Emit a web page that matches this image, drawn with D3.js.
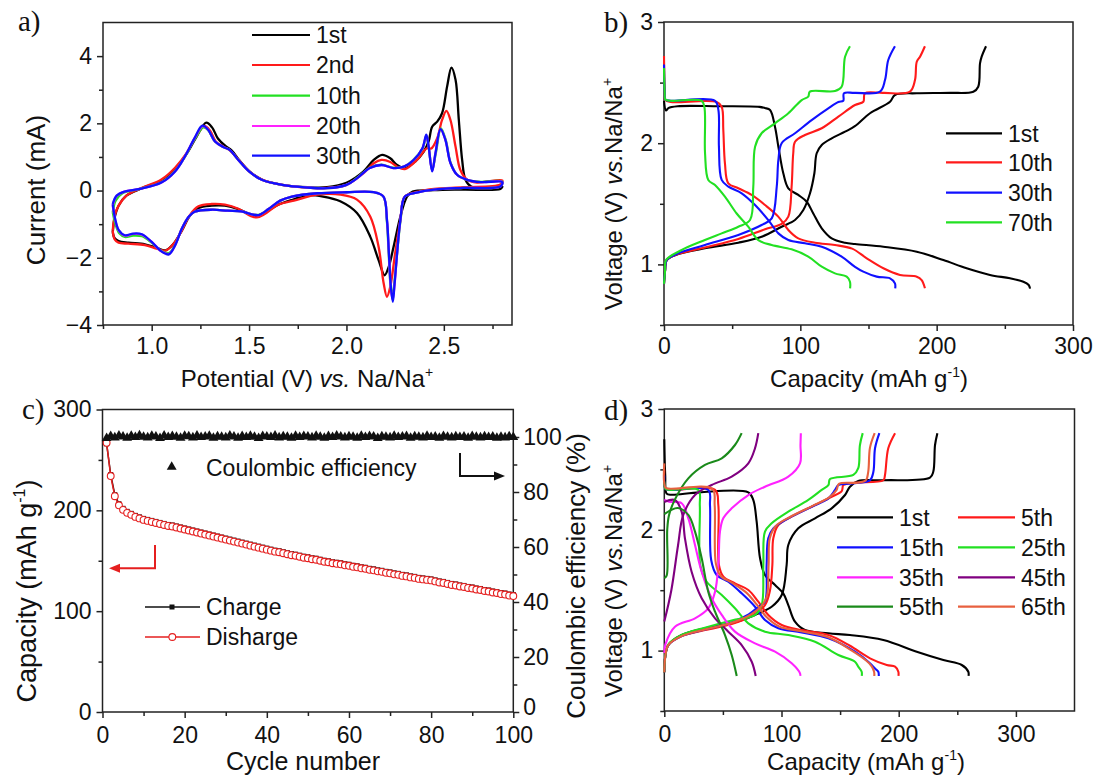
<!DOCTYPE html>
<html>
<head>
<meta charset="utf-8">
<script src="https://cdn.jsdelivr.net/npm/d3@7"></script>
<style>
  body { margin: 0; background: #fff; }
  svg text { font-family: "Liberation Sans", Arial, sans-serif; fill: #111; }
</style>
</head>
<body>
<svg id="fig" width="1099" height="778"></svg>
<script>
// ---------- panel a : cyclic voltammetry, [potential V, current mA] loops ----------
var cv1st = [[0.80,-1.25],[0.81,-0.80],[0.83,-0.45],[0.87,-0.15],[0.95,0.07],[1.05,0.30],[1.12,0.65],[1.18,1.10],[1.23,1.60],[1.28,2.02],[1.31,1.88],[1.34,1.55],[1.38,1.32],[1.41,1.20],[1.45,0.90],[1.50,0.58],[1.565,0.33],[1.67,0.17],[1.80,0.10],[1.90,0.10],[2.0,0.23],[2.088,0.57],[2.14,0.91],[2.183,1.06],[2.225,0.96],[2.26,0.76],[2.30,0.67],[2.354,0.87],[2.397,1.16],[2.422,1.46],[2.44,1.90],[2.466,2.05],[2.491,2.30],[2.517,3.10],[2.539,3.66],[2.56,3.30],[2.577,2.10],[2.594,0.91],[2.611,0.32],[2.64,0.12],[2.72,0.07],[2.80,0.12],
             [2.79,0.05],[2.60,0.03],[2.45,0.01],[2.34,-0.03],[2.311,-0.18],[2.277,-0.77],[2.242,-1.67],[2.217,-2.27],[2.196,-2.52],[2.165,-2.07],[2.122,-1.37],[2.054,-0.67],[1.968,-0.32],[1.88,-0.18],[1.80,-0.14],[1.73,-0.26],[1.65,-0.42],[1.58,-0.65],[1.54,-0.75],[1.51,-0.72],[1.445,-0.55],[1.376,-0.45],[1.308,-0.45],[1.24,-0.52],[1.196,-0.75],[1.154,-1.20],[1.11,-1.60],[1.07,-1.78],[1.025,-1.70],[0.965,-1.60],[0.88,-1.55],[0.83,-1.50],[0.81,-1.42],[0.80,-1.25]];
var cv2nd = [[0.80,-1.20],[0.81,-0.75],[0.83,-0.45],[0.87,-0.15],[0.95,0.08],[1.05,0.33],[1.12,0.68],[1.18,1.12],[1.225,1.58],[1.27,1.92],[1.30,1.78],[1.33,1.45],[1.37,1.30],[1.40,1.20],[1.445,0.92],[1.50,0.58],[1.565,0.33],[1.67,0.17],[1.80,0.09],[1.90,0.08],[2.0,0.17],[2.088,0.52],[2.14,0.81],[2.18,0.91],[2.225,0.85],[2.26,0.71],[2.30,0.64],[2.362,0.91],[2.413,1.26],[2.435,1.25],[2.466,1.56],[2.491,2.10],[2.513,2.37],[2.534,2.10],[2.56,1.31],[2.585,0.61],[2.62,0.32],[2.67,0.24],[2.80,0.30],
             [2.79,0.18],[2.60,0.10],[2.45,0.05],[2.37,-0.03],[2.30,-0.18],[2.277,-0.87],[2.25,-1.87],[2.225,-2.86],[2.208,-3.16],[2.191,-2.76],[2.165,-1.67],[2.122,-0.77],[2.054,-0.27],[1.97,-0.12],[1.85,-0.12],[1.73,-0.30],[1.65,-0.42],[1.58,-0.70],[1.54,-0.80],[1.51,-0.76],[1.445,-0.54],[1.376,-0.42],[1.308,-0.40],[1.24,-0.47],[1.196,-0.73],[1.154,-1.20],[1.11,-1.60],[1.07,-1.79],[1.025,-1.73],[0.965,-1.62],[0.88,-1.58],[0.83,-1.55],[0.81,-1.45],[0.80,-1.20]];
var cv10th = [[0.80,-0.65],[0.815,-0.30],[0.85,-0.08],[0.94,0.05],[1.05,0.25],[1.12,0.58],[1.17,1.00],[1.22,1.52],[1.265,1.88],[1.29,1.80],[1.325,1.46],[1.37,1.29],[1.40,1.21],[1.445,0.91],[1.50,0.57],[1.565,0.32],[1.67,0.17],[1.80,0.09],[1.90,0.07],[2.0,0.17],[2.055,0.38],[2.12,0.68],[2.18,0.77],[2.24,0.68],[2.295,0.71],[2.345,0.92],[2.39,1.24],[2.41,1.60],[2.422,1.30],[2.44,0.62],[2.46,1.15],[2.485,1.85],[2.51,1.50],[2.534,0.84],[2.568,0.47],[2.62,0.32],[2.69,0.26],[2.80,0.27],
              [2.79,0.12],[2.60,0.08],[2.45,0.03],[2.36,-0.06],[2.30,-0.18],[2.278,-0.87],[2.26,-1.87],[2.245,-2.80],[2.236,-3.15],[2.226,-2.80],[2.217,-1.87],[2.207,-0.87],[2.19,-0.18],[2.14,-0.05],[2.0,-0.05],[1.85,-0.08],[1.72,-0.18],[1.66,-0.30],[1.60,-0.55],[1.55,-0.72],[1.51,-0.70],[1.46,-0.62],[1.39,-0.60],[1.31,-0.57],[1.22,-0.63],[1.19,-0.78],[1.155,-1.13],[1.12,-1.62],[1.088,-1.86],[1.05,-1.80],[1.0,-1.55],[0.95,-1.36],[0.905,-1.34],[0.862,-1.38],[0.835,-1.28],[0.815,-1.02],[0.80,-0.65]];
var cv20th = [[0.80,-0.45],[0.82,-0.16],[0.86,-0.03],[0.94,0.05],[1.05,0.24],[1.12,0.57],[1.17,1.01],[1.22,1.55],[1.262,1.92],[1.29,1.81],[1.325,1.46],[1.37,1.29],[1.40,1.21],[1.445,0.91],[1.50,0.57],[1.565,0.32],[1.67,0.17],[1.80,0.09],[1.90,0.07],[2.0,0.17],[2.055,0.37],[2.12,0.67],[2.18,0.76],[2.24,0.67],[2.295,0.71],[2.345,0.91],[2.39,1.25],[2.41,1.64],[2.422,1.31],[2.44,0.58],[2.457,1.11],[2.483,1.83],[2.508,1.51],[2.534,0.82],[2.568,0.47],[2.62,0.32],[2.69,0.25],[2.80,0.26],
              [2.79,0.12],[2.60,0.08],[2.45,0.03],[2.36,-0.06],[2.30,-0.18],[2.277,-0.87],[2.26,-1.87],[2.246,-2.86],[2.237,-3.25],[2.227,-2.86],[2.218,-1.87],[2.208,-0.87],[2.19,-0.18],[2.14,-0.05],[2.0,-0.05],[1.85,-0.08],[1.72,-0.18],[1.66,-0.30],[1.60,-0.55],[1.55,-0.73],[1.51,-0.70],[1.46,-0.62],[1.39,-0.60],[1.31,-0.57],[1.22,-0.63],[1.19,-0.78],[1.155,-1.13],[1.12,-1.63],[1.088,-1.89],[1.05,-1.81],[1.0,-1.53],[0.95,-1.31],[0.905,-1.29],[0.862,-1.34],[0.831,-1.19],[0.812,-0.85],[0.80,-0.45]];
var cv30th = [[0.80,-0.40],[0.82,-0.15],[0.86,-0.03],[0.94,0.05],[1.05,0.24],[1.12,0.57],[1.17,1.01],[1.22,1.56],[1.26,1.93],[1.29,1.81],[1.325,1.46],[1.37,1.29],[1.40,1.21],[1.445,0.91],[1.50,0.57],[1.565,0.32],[1.67,0.17],[1.80,0.09],[1.90,0.07],[2.0,0.17],[2.055,0.37],[2.12,0.67],[2.18,0.76],[2.24,0.67],[2.295,0.71],[2.345,0.91],[2.39,1.26],[2.41,1.66],[2.422,1.31],[2.44,0.57],[2.457,1.11],[2.483,1.83],[2.508,1.51],[2.534,0.82],[2.568,0.47],[2.62,0.32],[2.69,0.25],[2.80,0.25],
              [2.79,0.12],[2.60,0.08],[2.45,0.03],[2.36,-0.06],[2.30,-0.18],[2.277,-0.87],[2.26,-1.87],[2.246,-2.86],[2.238,-3.31],[2.228,-2.86],[2.218,-1.87],[2.208,-0.87],[2.19,-0.18],[2.14,-0.05],[2.0,-0.05],[1.85,-0.08],[1.72,-0.18],[1.66,-0.30],[1.60,-0.55],[1.55,-0.73],[1.51,-0.70],[1.46,-0.62],[1.39,-0.60],[1.31,-0.57],[1.22,-0.63],[1.19,-0.78],[1.155,-1.13],[1.12,-1.63],[1.088,-1.90],[1.05,-1.81],[1.0,-1.53],[0.95,-1.30],[0.905,-1.28],[0.862,-1.33],[0.831,-1.18],[0.812,-0.83],[0.80,-0.40]];
var cvNames = ["1st", "2nd", "10th", "20th", "30th"];
var cvColors = ["#000000", "#ff1a1a", "#22e022", "#ff22ff", "#1010ff"];

// ---------- panel b : charge / discharge profiles, [capacity, voltage] ----------
var b1Dis = [[0,2.35],[1.5,2.27],[3.2,2.29],[10,2.305],[40,2.305],[70,2.30],[74,2.29],[77.8,2.274],[81.4,2.136],[83.9,1.971],[87.5,1.752],[91.2,1.628],[98.5,1.573],[104.7,1.517],[109.5,1.42],[115.7,1.298],[123,1.215],[132.8,1.179],[140.1,1.168],[160.9,1.146],[185.4,1.105],[204.9,1.036],[222,0.968],[239.1,0.913],[253.8,0.885],[263.6,0.857],[267.5,0.83],[268.5,0.80]];
var b1Cha = [[0,0.84],[0.8,0.95],[2,1.036],[8.6,1.078],[30,1.133],[54.5,1.179],[71.6,1.228],[86.3,1.311],[96.1,1.366],[102.2,1.449],[107.1,1.587],[110.3,1.752],[112,1.917],[115.7,1.985],[123,2.04],[132.8,2.095],[140,2.14],[151.1,2.247],[165.8,2.342],[169.4,2.398],[185.4,2.412],[209.8,2.415],[226.9,2.425],[230.5,2.466],[231.8,2.659],[233,2.714],[236.2,2.80]];
var b10Dis = [[0,2.72],[0.5,2.45],[1,2.356],[5,2.34],[38.6,2.34],[42.3,2.301],[43.5,2.109],[44.7,1.834],[47.2,1.669],[54.5,1.628],[64.3,1.573],[74.1,1.49],[83.8,1.394],[91.2,1.284],[98.5,1.215],[110.8,1.179],[125.4,1.16],[138,1.13],[148.7,1.05],[160.9,0.968],[173.1,0.913],[185.4,0.899],[189,0.871],[191.4,0.803]];
var b10Cha = [[0,0.84],[0.8,0.95],[2,1.036],[8.6,1.08],[30,1.14],[54.5,1.21],[74.1,1.29],[86.3,1.334],[91.2,1.394],[93.6,1.642],[94.8,1.917],[96.1,2.012],[103.4,2.068],[115.7,2.123],[127.9,2.219],[140.1,2.315],[146.2,2.342],[147.4,2.412],[160.9,2.415],[180.4,2.425],[184.1,2.521],[185.4,2.672],[187.8,2.714],[191.4,2.80]];
var b30Dis = [[0,2.65],[0.5,2.42],[1,2.36],[5,2.35],[37.4,2.35],[39.9,2.274],[40.3,1.97],[42.3,1.697],[47.2,1.642],[57,1.587],[66.8,1.49],[76.5,1.366],[83.9,1.256],[91.2,1.201],[103.4,1.174],[115.7,1.146],[130.3,1.064],[140.1,0.98],[146.2,0.94],[156,0.899],[165.8,0.885],[169.4,0.844],[169.6,0.803]];
var b30Cha = [[0,0.84],[0.8,0.95],[2,1.036],[10,1.09],[30,1.16],[54.5,1.243],[71.6,1.325],[79,1.38],[82.7,1.642],[83.9,1.862],[86.3,2.0],[96.1,2.082],[108.3,2.191],[120.5,2.288],[127.9,2.34],[131.5,2.35],[132,2.412],[140,2.415],[158.4,2.425],[162.1,2.521],[164.5,2.686],[169.4,2.80]];
var b70Dis = [[0,2.62],[0.5,2.42],[1,2.36],[5,2.35],[27.6,2.35],[29.6,2.30],[30.1,1.917],[32.5,1.697],[37.4,1.655],[44.7,1.559],[53.3,1.42],[61.8,1.311],[69.2,1.201],[79,1.16],[93.6,1.124],[105.8,1.064],[115.7,0.981],[125.4,0.926],[134,0.899],[136.4,0.857],[136.5,0.803]];
var b70Cha = [[0,0.84],[0.8,0.95],[1.5,1.036],[13,1.119],[30,1.201],[42.3,1.256],[54.5,1.311],[63.1,1.366],[65.5,1.642],[66.8,1.971],[71.6,2.082],[81.4,2.164],[91.2,2.247],[101,2.356],[105.8,2.384],[107,2.425],[125.4,2.43],[130.3,2.466],[132.8,2.714],[136.4,2.80]];
var bNames = ["1st", "10th", "30th", "70th"];
var bColors = ["#000000", "#ff1a1a", "#1010ff", "#22e022"];

// ---------- panel c : cycling, capacity (mAh/g) and coulombic efficiency (%) ----------
var discharge = [267,234,214,205,200.5,197.5,195.5,193.5,192,190.5, 189.5,188.5,187.5,186.5,185.5,184.5,184,183,182,181,
                 180,179,178,177,176,175,174,173,172,171, 170,169,168,167,166,165,164,163,162,161,
                 160,159,158.5,157.5,156.5,155.5,155,154,153,152.5, 151.5,151,150,149,148.5,147.5,147,146.5,145.5,145,
                 144,143.5,142.5,142,141,140.5,139.5,139,138,137.5, 136.5,136,135,134.5,133.5,133,132,131.5,131,130.5,
                 129.5,128.5,128,127,126,125.5,124.5,124,123,122.5, 121.5,121,120,119.5,118.5,118,117,116.5,115.5,115];
var charge = [266,235.5,215.5,206.5,202,199,197,195,193.5,192, 191,190,189,188,187,186,185.5,184.5,183.5,182.5,
              181.5,180.5,179.5,178.5,177.5,176.5,175.5,174.5,173.5,172.5, 171.5,170.5,169.5,168.5,167.5,166.5,165.5,164.5,163.5,162.5,
              161.5,160.5,160,159,158,157,156.5,155.5,154.5,154, 153,152.5,151.5,150.5,150,149,148.5,148,147,146.5,
              145.5,145,144,143.5,142.5,142,141,140.5,139.5,139, 138,137.5,136.5,136,135,134.5,133.5,133,132.5,132,
              131,130,129.5,128.5,127.5,127,126,125.5,124.5,124, 123,122.5,121.5,121,120,119.5,118.5,118,117,116.5];
var efficiency = [99.6,100.3,99.8,100.5,100.1,99.7,100.4,99.9,100.6,100.0, 99.8,100.4,100.1,99.6,100.5,99.9,100.3,100.0,99.7,100.4,
                  100.2,99.8,100.5,99.9,100.1,100.4,99.7,100.2,100.0,99.8, 100.5,100.1,99.7,100.3,99.9,100.4,100.0,99.6,100.3,100.1,
                  99.9,100.5,99.8,100.2,100.0,99.7,100.4,99.9,100.3,100.1, 99.8,100.4,100.0,99.7,100.3,99.9,100.5,100.1,99.8,100.2,
                  100.0,99.7,100.4,99.9,100.3,100.1,99.6,100.2,100.0,99.8, 100.4,99.9,100.1,100.3,99.7,100.2,100.0,99.8,100.4,99.9,
                  100.1,99.7,100.3,100.0,99.8,100.2,99.9,100.1,99.7,100.3, 100.0,99.8,100.2,99.9,100.1,99.7,100.0,99.8,100.2,99.9];

// ---------- panel d : more cycles ----------
var d1Dis = [[0,2.75],[0.8,2.45],[2,2.30],[6,2.29],[30,2.31],[71.7,2.31],[75.9,2.247],[78.8,2.067],[81.7,1.764],[85.9,1.626],[94.5,1.543],[101.5,1.474],[105.8,1.377],[111.5,1.239],[120,1.17],[140,1.143],[158.4,1.129],[186.9,1.088],[215.4,0.991],[238.1,0.922],[253.8,0.881],[259.4,0.825],[259.6,0.79]];
var d1Cha = [[0,0.82],[0.8,0.95],[3.4,1.046],[14.8,1.129],[34.7,1.185],[57.5,1.226],[77.4,1.295],[91.6,1.363],[100.2,1.46],[104.4,1.709],[105.8,1.874],[114.3,2.012],[128.6,2.095],[142.8,2.178],[154.2,2.288],[158.4,2.357],[165.5,2.404],[186.9,2.41],[226.7,2.432],[229.5,2.48],[231,2.702],[233,2.80]];
var d5Dis = [[0,2.5],[1,2.34],[5,2.33],[43.3,2.33],[46.1,2.205],[46.6,1.709],[50.4,1.612],[60.3,1.557],[71.7,1.502],[80.2,1.405],[88.7,1.295],[100.2,1.212],[117.2,1.17],[140,1.129],[158.4,1.04],[175.5,0.936],[189.8,0.881],[196.9,0.867],[199.7,0.825],[199.8,0.79]];
var d5Cha = [[0,0.82],[0.8,0.95],[3.4,1.046],[14.8,1.12],[34.7,1.17],[57.5,1.22],[75,1.29],[85.9,1.377],[90.2,1.5],[92.2,1.709],[93,1.93],[97.3,2.04],[111.5,2.123],[128.6,2.205],[142.8,2.274],[151.4,2.32],[152.8,2.37],[162.7,2.39],[186.9,2.41],[188.3,2.454],[191.1,2.675],[196.9,2.80]];
var d15Dis = [[0,2.45],[1,2.34],[5,2.33],[37.5,2.33],[39,2.2],[40,1.75],[44.7,1.626],[54.6,1.57],[66,1.474],[77.4,1.363],[85.9,1.253],[97.3,1.185],[117.2,1.151],[140,1.102],[162.7,0.991],[175,0.90],[180,0.85],[182.6,0.825],[183,0.79]];
var d15Cha = [[0,0.82],[0.8,0.95],[3.4,1.046],[14.8,1.12],[34.7,1.175],[57.5,1.235],[72,1.30],[80,1.36],[85.9,1.405],[87.3,1.709],[88.7,1.93],[93,2.012],[105.8,2.095],[125.8,2.191],[140,2.26],[145.7,2.33],[148.5,2.37],[162.7,2.385],[175.5,2.41],[178.4,2.48],[179.8,2.675],[183.5,2.80]];
var d25Dis = [[0,2.4],[1,2.34],[5,2.33],[29,2.33],[30.3,2.2],[30.7,1.709],[36.2,1.57],[49,1.46],[60.3,1.35],[71.7,1.226],[85.9,1.157],[105.8,1.129],[128.6,1.074],[148.5,0.964],[162.7,0.908],[165.5,0.867],[168.4,0.825],[168.5,0.79]];
var d25Cha = [[0,0.82],[0.8,0.95],[3.4,1.05],[14.8,1.13],[34.7,1.19],[57.5,1.25],[77.4,1.295],[83.1,1.377],[84.5,1.709],[85.9,1.985],[91.6,2.054],[105.8,2.15],[122.9,2.247],[134.3,2.33],[140,2.37],[141.4,2.42],[161.3,2.454],[165.5,2.51],[166.9,2.70],[169.3,2.80]];
var d35Dis = [[0,2.25],[4,2.233],[14.8,2.22],[20.5,2.095],[26.2,1.874],[31.9,1.653],[40.4,1.433],[49,1.295],[60.3,1.157],[77.4,1.06],[94.5,0.991],[108.7,0.895],[115.8,0.812],[116,0.79]];
var d35Cha = [[0,0.98],[0.9,1.05],[9.1,1.198],[26.2,1.267],[37.5,1.35],[43.3,1.488],[46.1,1.709],[47.5,1.985],[50.3,2.095],[57.5,2.178],[71.7,2.288],[85.9,2.357],[105.8,2.44],[115.8,2.55],[116.2,2.70],[116.5,2.80]];
var d45Dis = [[0,2.23],[9,2.247],[14.8,2.15],[17.6,1.93],[23.3,1.653],[31.9,1.433],[43.3,1.267],[54.6,1.157],[66,1.046],[74.6,0.908],[78,0.79]];
var d45Cha = [[0,1.24],[6,1.5],[11.7,1.87],[16.2,2.123],[26.2,2.288],[40.4,2.371],[57.5,2.44],[71.7,2.55],[77.4,2.675],[80.2,2.80]];
var d55Dis = [[0,2.13],[11.7,2.18],[20.5,2.123],[26.2,1.985],[31.9,1.764],[37.5,1.488],[43.3,1.322],[51.8,1.129],[57.5,0.964],[61.8,0.79]];
var d55Cha = [[0,1.6],[2,1.62],[2.5,2.0],[4,2.12],[9,2.25],[20.5,2.426],[34.7,2.537],[49,2.592],[60.3,2.702],[66,2.80]];
var d65Dis = [[0,2.55],[1,2.35],[5,2.34],[41,2.34],[43,2.2],[44,1.72],[48,1.62],[58,1.56],[70,1.48],[79,1.38],[87,1.28],[98,1.2],[117,1.16],[140,1.11],[160,1.0],[172,0.92],[177,0.87],[179,0.825],[179.2,0.79]];
var d65Cha = [[0,0.82],[0.8,0.95],[3.4,1.046],[14.8,1.12],[34.7,1.175],[57.5,1.23],[74,1.30],[83,1.37],[87.5,1.45],[89,1.709],[90,1.93],[95,2.03],[108,2.11],[127,2.2],[141,2.27],[147,2.33],[149,2.38],[165,2.39],[172,2.41],[174,2.48],[175.5,2.68],[179.5,2.80]];
var dNames = ["1st", "5th", "15th", "25th", "35th", "45th", "55th", "65th"];
var dColors = ["#000000", "#ff1a1a", "#1010ff", "#22e022", "#ff22ff", "#800080", "#1a8a1a", "#e8603f"];

// ---------- drawing ----------
var svg = d3.select("#fig");
svg.append("rect").attr("width", 1099).attr("height", 778).attr("fill", "#fff");

var FONT = "Liberation Sans, Arial, sans-serif";
var TICK = 23;

function style(sel) {
  sel.attr("font-size", TICK).attr("font-family", FONT);
  sel.select(".domain").remove();
  sel.selectAll("line").attr("stroke", "#222").attr("stroke-width", 1.5);
  sel.selectAll("text").attr("fill", "#111");
}

function axes(f, x, y, o) {
  var g = svg.append("g");
  g.append("g").attr("transform", "translate(0," + f.y1 + ")")
    .call(d3.axisBottom(x).tickValues(o.xMinor).tickSize(4).tickFormat("")).call(style);
  g.append("g").attr("transform", "translate(0," + f.y1 + ")")
    .call(d3.axisBottom(x).tickValues(o.xMajor).tickSize(6).tickPadding(o.xPad || 7).tickFormat(o.xFmt || d3.format("d"))).call(style);
  g.append("g").attr("transform", "translate(" + f.x0 + ",0)")
    .call(d3.axisLeft(y).tickValues(o.yMinor).tickSize(4).tickFormat("")).call(style);
  g.append("g").attr("transform", "translate(" + f.x0 + ",0)")
    .call(d3.axisLeft(y).tickValues(o.yMajor).tickSize(6).tickPadding(5).tickFormat(d3.format("d"))).call(style);
  g.append("rect").attr("x", f.x0).attr("y", f.y0)
    .attr("width", f.x1 - f.x0).attr("height", f.y1 - f.y0)
    .attr("fill", "none").attr("stroke", "#222").attr("stroke-width", 1.5);
}

function panelLabel(t, px, py) {
  svg.append("text").attr("x", px).attr("y", py).text(t)
    .style("font-family", "Liberation Serif, Times New Roman, serif").attr("font-size", 29);
}

function legend(names, colors, x0, x1, tx, ys) {
  names.forEach(function (n, i) {
    svg.append("line").attr("x1", x0).attr("x2", x1).attr("y1", ys[i]).attr("y2", ys[i])
      .attr("stroke", colors[i]).attr("stroke-width", 2.2);
    svg.append("text").attr("x", tx).attr("y", ys[i]).attr("dy", "0.36em")
      .attr("font-size", 23).text(n);
  });
}

// ===== panel a =====
var fa = {x0: 103, x1: 512, y0: 22.5, y1: 325};
var xa = d3.scaleLinear().domain([0.75, 2.85]).range([fa.x0, fa.x1]);
var ya = d3.scaleLinear().domain([-4, 5]).range([fa.y1, fa.y0]);
axes(fa, xa, ya, {xMajor: [1.0, 1.5, 2.0, 2.5], xMinor: [0.75, 1.25, 1.75, 2.25, 2.75],
  xFmt: d3.format(".1f"), yMajor: [-4, -2, 0, 2, 4], yMinor: [-3, -1, 1, 3]});
var lineA = d3.line().x(d => xa(d[0])).y(d => ya(d[1])).curve(d3.curveCatmullRom.alpha(0.5));
[cv1st, cv2nd, cv10th, cv20th, cv30th].forEach(function (c, i) {
  svg.append("path").attr("d", lineA(c)).attr("fill", "none")
    .attr("stroke", cvColors[i]).attr("stroke-width", 2.3);
});
legend(cvNames, cvColors, 252, 310, 316, [35, 65, 95.7, 126, 155.7]);
panelLabel("a)", 18, 31);
svg.append("text").attr("transform", "translate(45,190) rotate(-90)")
  .attr("text-anchor", "middle").attr("font-size", 26).text("Current (mA)");
var ta = svg.append("text").attr("x", 307).attr("y", 387).attr("text-anchor", "middle").attr("font-size", 24);
ta.append("tspan").text("Potential (V)  ");
ta.append("tspan").attr("font-style", "italic").text("vs.");
ta.append("tspan").text(" Na/Na");
ta.append("tspan").attr("dy", -10).attr("font-size", 14).text("+");

// ===== panel b =====
var fb = {x0: 664, x1: 1073, y0: 22, y1: 325};
var xb = d3.scaleLinear().domain([0, 300]).range([fb.x0, fb.x1]);
var yb = d3.scaleLinear().domain([0.5, 3]).range([fb.y1, fb.y0]);
axes(fb, xb, yb, {xMajor: [0, 100, 200, 300], xMinor: [50, 150, 250], yMajor: [1, 2, 3], yMinor: [0.5, 1.5, 2.5]});
var lineB = d3.line().x(d => xb(d[0])).y(d => yb(d[1])).curve(d3.curveCatmullRom.alpha(0.5));
[[b1Dis, b1Cha], [b10Dis, b10Cha], [b30Dis, b30Cha], [b70Dis, b70Cha]].forEach(function (pair, i) {
  pair.forEach(function (c) {
    svg.append("path").attr("d", lineB(c)).attr("fill", "none")
      .attr("stroke", bColors[i]).attr("stroke-width", 2.1);
  });
});
legend(bNames, bColors, 946, 1002, 1008, [133.3, 162.3, 192.7, 222.3]);
panelLabel("b)", 604, 32);

function voltTitle(cx, cy) {
  var t = svg.append("text").attr("transform", "translate(" + cx + "," + cy + ") rotate(-90)")
    .attr("text-anchor", "middle").attr("font-size", 24);
  t.append("tspan").text("Voltage (V)  ");
  t.append("tspan").attr("font-style", "italic").text("vs.");
  t.append("tspan").text("Na/Na");
  t.append("tspan").attr("dy", -10).attr("font-size", 14).text("+");
}
function capTitle(cx, cy) {
  var t = svg.append("text").attr("x", cx).attr("y", cy).attr("text-anchor", "middle").attr("font-size", 24);
  t.append("tspan").text("Capacity (mAh g");
  t.append("tspan").attr("dy", -10).attr("font-size", 14).text("-1");
  t.append("tspan").attr("dy", 10).text(")");
}
voltTitle(622, 194);
capTitle(869, 387);

// ===== panel c =====
var fc = {x0: 102.5, x1: 513.3, y0: 409.5, y1: 712};
var xc = d3.scaleLinear().domain([0, 100]).range([fc.x0, fc.x1]);
var yc = d3.scaleLinear().domain([0, 300]).range([fc.y1, fc.y0]);
var yc2 = d3.scaleLinear().domain([0, 110]).range([fc.y1, fc.y0]);
axes(fc, xc, yc, {xMajor: [0, 20, 40, 60, 80, 100], xMinor: [10, 30, 50, 70, 90], xPad: 9,
  yMajor: [0, 100, 200, 300], yMinor: [50, 150, 250]});
var gr = svg.append("g").attr("transform", "translate(" + fc.x1 + ",0)");
gr.append("g").call(d3.axisRight(yc2).tickValues([10, 30, 50, 70, 90]).tickSize(4).tickFormat("")).call(style);
gr.append("g").call(d3.axisRight(yc2).tickValues([0, 20, 40, 60, 80, 100]).tickSize(6).tickPadding(4).tickFormat(d3.format("d"))).call(style);
gr.selectAll("text").filter(d => d === 0).attr("dy", "0.1em");

var cyc = charge.map((v, i) => i + 1);
var lineCh = d3.line().x((d, i) => xc(cyc[i])).y(d => yc(d));
svg.append("path").attr("d", lineCh(charge)).attr("fill", "none").attr("stroke", "#111").attr("stroke-width", 1.5);
svg.selectAll(".sq").data(charge).enter().append("rect")
  .attr("x", (d, i) => xc(cyc[i]) - 2.5).attr("y", d => yc(d) - 2.5)
  .attr("width", 5).attr("height", 5).attr("fill", "#111");
svg.append("path").attr("d", lineCh(discharge)).attr("fill", "none").attr("stroke", "#e51f1f").attr("stroke-width", 1.5);
svg.selectAll(".ci").data(discharge).enter().append("circle")
  .attr("cx", (d, i) => xc(cyc[i])).attr("cy", d => yc(d)).attr("r", 3.4)
  .attr("fill", "#fff").attr("stroke", "#e51f1f").attr("stroke-width", 1.1);
var tri = d3.symbol().type(d3.symbolTriangle).size(42);
svg.selectAll(".tr").data(efficiency).enter().append("path").attr("d", tri)
  .attr("transform", (d, i) => "translate(" + xc(cyc[i]) + "," + yc2(d) + ")").attr("fill", "#111");

// legend and arrows of panel c
svg.append("path").attr("d", tri).attr("transform", "translate(171.7,467)").attr("fill", "#111");
svg.append("text").attr("x", 206).attr("y", 468).attr("dy", "0.36em").attr("font-size", 23).text("Coulombic efficiency");
svg.append("line").attr("x1", 145).attr("x2", 200).attr("y1", 607).attr("y2", 607).attr("stroke", "#111").attr("stroke-width", 1.5);
svg.append("rect").attr("x", 169.5).attr("y", 604.5).attr("width", 5).attr("height", 5).attr("fill", "#111");
svg.append("text").attr("x", 206).attr("y", 607).attr("dy", "0.36em").attr("font-size", 23).text("Charge");
svg.append("line").attr("x1", 145).attr("x2", 200).attr("y1", 637).attr("y2", 637).attr("stroke", "#e51f1f").attr("stroke-width", 1.5);
svg.append("circle").attr("cx", 172.3).attr("cy", 637).attr("r", 3.4).attr("fill", "#fff").attr("stroke", "#e51f1f").attr("stroke-width", 1.1);
svg.append("text").attr("x", 206).attr("y", 637).attr("dy", "0.36em").attr("font-size", 23).text("Disharge");

svg.append("path").attr("d", "M155,545 V568.3 H118").attr("fill", "none").attr("stroke", "#e51f1f").attr("stroke-width", 2);
svg.append("path").attr("d", "M109,568.3 L120,563.8 L120,572.8 Z").attr("fill", "#e51f1f");
svg.append("path").attr("d", "M460,453 V476 H496").attr("fill", "none").attr("stroke", "#111").attr("stroke-width", 2);
svg.append("path").attr("d", "M505,476 L494,471.5 L494,480.5 Z").attr("fill", "#111");

panelLabel("c)", 22, 419);
var tc = svg.append("text").attr("transform", "translate(36,591) rotate(-90)")
  .attr("text-anchor", "middle").attr("font-size", 27);
tc.append("tspan").text("Capacity (mAh g");
tc.append("tspan").attr("dy", -11).attr("font-size", 16).text("-1");
tc.append("tspan").attr("dy", 11).text(")");
svg.append("text").attr("transform", "translate(585,576) rotate(-90)")
  .attr("text-anchor", "middle").attr("font-size", 26).text("Coulombic efficiency (%)");
svg.append("text").attr("x", 303).attr("y", 770).attr("text-anchor", "middle").attr("font-size", 25).text("Cycle number");

// ===== panel d =====
var fd = {x0: 664.3, x1: 1074.5, y0: 409, y1: 711};
var xd = d3.scaleLinear().domain([0, 350]).range([fd.x0, fd.x1]);
var yd = d3.scaleLinear().domain([0.5, 3]).range([fd.y1, fd.y0]);
axes(fd, xd, yd, {xMajor: [0, 100, 200, 300], xMinor: [50, 150, 250], xPad: 9, yMajor: [1, 2, 3], yMinor: [0.5, 1.5, 2.5]});
var lineD = d3.line().x(d => xd(d[0])).y(d => yd(d[1])).curve(d3.curveCatmullRom.alpha(0.5));
[[d1Dis, d1Cha], [d5Dis, d5Cha], [d15Dis, d15Cha], [d25Dis, d25Cha], [d35Dis, d35Cha],
 [d45Dis, d45Cha], [d55Dis, d55Cha], [d65Dis, d65Cha]].forEach(function (pair, i) {
  pair.forEach(function (c) {
    svg.append("path").attr("d", lineD(c)).attr("fill", "none")
      .attr("stroke", dColors[i]).attr("stroke-width", 2.1);
  });
});
var rows = [517.3, 547.3, 577.3, 606.7];
legend(dNames.filter((n, i) => i % 2 == 0), dColors.filter((n, i) => i % 2 == 0), 837, 893, 899, rows);
legend(dNames.filter((n, i) => i % 2 == 1), dColors.filter((n, i) => i % 2 == 1), 958, 1015, 1021, rows);
panelLabel("d)", 604, 420);
voltTitle(622, 581);
capTitle(866, 770);
</script>
</body>
</html>
